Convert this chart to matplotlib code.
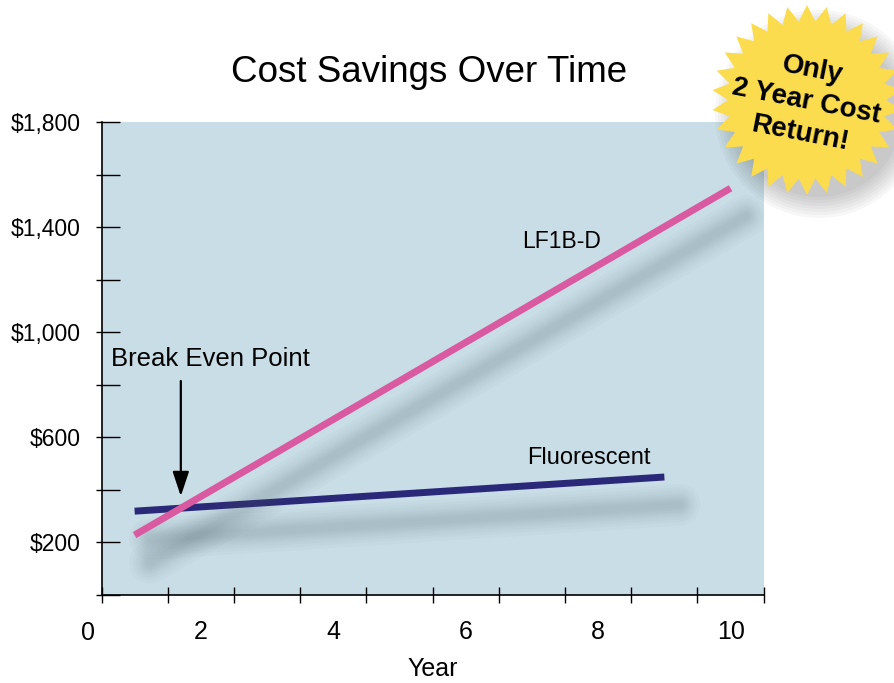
import numpy as np
import matplotlib
matplotlib.use("Agg")
import matplotlib.pyplot as plt
import matplotlib.patheffects as pe
from matplotlib.patches import Polygon, Circle

# data (year, cost)
lf1b_years = [1, 10]
lf1b_cost = [228, 1548]
fluor_years = [1, 9]
fluor_cost = [319, 449]

ytick_vals = [0, 200, 400, 600, 800, 1000, 1200, 1400, 1600, 1800]
ytick_labels = ['', '$200', '', '$600', '', '$1,000', '', '$1,400', '', '$1,800']
xtick_labels = ['0', '2', '4', '6', '8', '10']
xtick_pos = [0.3, 2, 4, 6, 8, 10]
xtick_marks = [0.5 + i for i in range(11)]

bg = '#c9dde7'
pink = '#d95aa0'
navy = '#2a2878'
star_yellow = '#fbdc4e'

plt.rcParams['font.family'] = ['Liberation Sans', 'DejaVu Sans']

fig = plt.figure(figsize=(8.94, 6.83), dpi=100)
ax = fig.add_axes([101.5 / 894, 88 / 683, 662.2 / 894, 473 / 683])
ax.set_facecolor(bg)
ax.set_xlim(0.5, 10.5)
ax.set_ylim(0, 1800)

# soft drop shadow under the lines
shadow = [pe.SimpleLineShadow(offset=(11, -20), shadow_color='#4f646e', alpha=0.03,
                              linewidth=w, capstyle='round')
          for w in (30, 25, 21, 17, 14, 11, 8, 5)] + [pe.Normal()]

ax.plot(fluor_years, fluor_cost, color=navy, lw=5, solid_capstyle='butt', path_effects=shadow, zorder=3)
ax.plot(lf1b_years, lf1b_cost, color=pink, lw=5, solid_capstyle='butt', path_effects=shadow, zorder=4)

for s in ('top', 'right'):
    ax.spines[s].set_visible(False)
for s in ('left', 'bottom'):
    ax.spines[s].set_linewidth(1.2)

# y ticks: long inward part plus short outward part
ax.set_yticks(ytick_vals)
ax.set_yticklabels(ytick_labels)
ax.yaxis.remove_overlapping_locs = False
ax.set_yticks(ytick_vals, minor=True)
ax.tick_params(axis='y', which='major', direction='in', length=13, width=1, pad=15, labelsize=16.5)
ax.tick_params(axis='y', which='minor', direction='out', length=4.5, width=1)

# x ticks: marks between the labels, labels offset like the original
ax.set_xticks(xtick_marks, minor=True)
ax.set_xticks(xtick_pos[1:])
ax.set_xticklabels(xtick_labels[1:])
ax.tick_params(axis='x', which='major', length=0, pad=18, labelsize=18)
ax.tick_params(axis='x', which='minor', direction='inout', length=12, width=1)
ax.text(xtick_pos[0], -143, xtick_labels[0], ha='center', va='center', fontsize=18, clip_on=False)
ax.set_xlabel('Year', fontsize=18, labelpad=9)

# annotations
ax.text(0.64, 900, 'Break Even Point', fontsize=18.5, ha='left', va='center')
be_x = 1 + (fluor_cost[0] - lf1b_cost[0]) / ((lf1b_cost[1] - lf1b_cost[0]) / 9 - (fluor_cost[1] - fluor_cost[0]) / 8)
be_y = fluor_cost[0] + (fluor_cost[1] - fluor_cost[0]) / 8 * (be_x - 1)
ax.annotate('', xy=(be_x, be_y + 35), xytext=(be_x, 825),
            arrowprops=dict(arrowstyle='-|>,head_length=1.5,head_width=0.5', color='black', lw=1.6))
ax.text(6.85, 1345, 'LF1B-D', fontsize=16.5, ha='left', va='center')
ax.text(6.92, 520, 'Fluorescent', fontsize=17, ha='left', va='center')

fig.text(429 / 894, 1 - 72 / 683, 'Cost Savings Over Time', fontsize=26.5, ha='center', va='center')

# starburst overlay in pixel coordinates
ov = fig.add_axes([0, 0, 1, 1], zorder=10)
ov.set_xlim(0, 894)
ov.set_ylim(683, 0)
ov.axis('off')
ov.patch.set_alpha(0)

n_pts = 30
cx, cy, R, r = 807, 100, 95, 79
ang = np.linspace(0, 2 * np.pi, 2 * n_pts, endpoint=False) - np.pi / 2
rad = np.where(np.arange(2 * n_pts) % 2 == 0, R, r)
for k in range(8):
    ov.add_patch(Circle((cx + 12, cy + 14), 104 - 3 * k, facecolor='#333333', edgecolor='none', alpha=0.035))
ov.add_patch(Polygon(np.column_stack([cx + rad * np.cos(ang), cy + rad * np.sin(ang)]),
                     closed=True, facecolor=star_yellow, edgecolor='none'))
ov.text(cx - 1, cy + 2, 'Only\n2 Year Cost\nReturn!', rotation=-11, rotation_mode='anchor',
        ha='center', va='center', multialignment='center', fontsize=20, fontweight='bold',
        linespacing=1.3)

fig.savefig('out.png', dpi=100)
